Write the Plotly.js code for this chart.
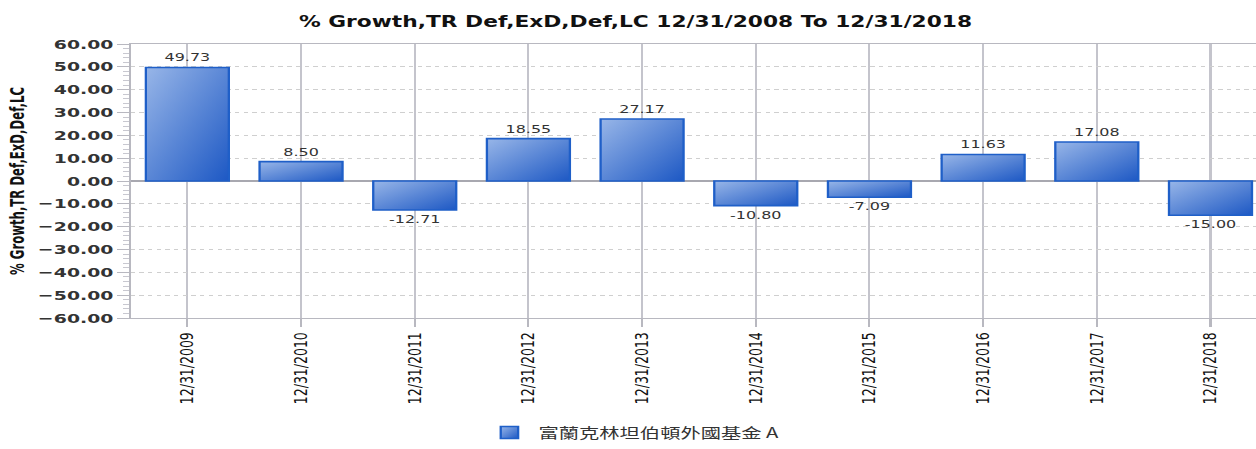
<!DOCTYPE html>
<html>
<head>
<meta charset="utf-8">
<script src="https://cdn.plot.ly/plotly-3.0.1.min.js"></script>
<style>
html,body{margin:0;padding:0;background:#fff;overflow:hidden;}
#wrap{width:1256px;height:449px;overflow:hidden;}
#chart{width:866px;height:449px;transform:scaleX(1.4503);transform-origin:0 0;}
</style>
</head>
<body>
<div id="wrap"><div id="chart"></div></div>
<script>
const categories = ["12/31/2009","12/31/2010","12/31/2011","12/31/2012","12/31/2013","12/31/2014","12/31/2015","12/31/2016","12/31/2017","12/31/2018"];
const values = [49.73, 8.50, -12.71, 18.55, 27.17, -10.80, -7.09, 11.63, 17.08, -15.00];
const seriesName = "富蘭克林坦伯頓外國基金 A";
const titleText = "% Growth,TR Def,ExD,Def,LC 12/31/2008 To 12/31/2018";
const yTitle = "% Growth,TR Def,ExD,Def,LC";

const trace = {
  type: 'bar',
  x: categories,
  y: values,
  name: seriesName,
  width: 0.73,
  marker: {color: '#4f82d6', line: {color: '#1f5fc8', width: 1.6}},
  texttemplate: '%{y:.2f}',
  textposition: 'outside',
  cliponaxis: false,
  textfont: {family: 'DejaVu Sans', size: 11, color: '#333'},
  hoverinfo: 'none'
};

const layout = {
  width: 866, height: 449,
  margin: {l: 90, r: 0, t: 44, b: 131},
  paper_bgcolor: '#fff', plot_bgcolor: '#fff',
  showlegend: true,
  title: {text: titleText, x: 0.506, xref: 'container', xanchor: 'center', y: 20, yref: 'container', yanchor: 'middle',
          font: {family: 'DejaVu Sans', size: 15, color: '#111', weight: 'bold'}},
  xaxis: {
    type: 'category', range: [-0.5, 9.4], automargin: false,
    showgrid: true, gridcolor: '#c4c4cc', gridwidth: 1.4,
    ticks: 'outside', ticklen: 8, tickcolor: '#b8b8c0', tickwidth: 1.4,
    tickangle: -90,
    tickfont: {family: 'DejaVu Sans', size: 12.5, color: '#111'},
    showline: true, linecolor: '#b8b8c0', linewidth: 1.2, mirror: true,
    zeroline: false, fixedrange: true
  },
  yaxis: {
    range: [-60, 60], dtick: 10, tickformat: '.2f', automargin: false,
    showgrid: true, gridcolor: '#cfcfcf', griddash: 'dot', gridwidth: 1,
    ticks: 'outside', ticklen: 8, tickcolor: '#b8b8c0',
    minor: {dtick: 2, ticks: 'outside', ticklen: 4, tickcolor: '#c8c8d0', showgrid: false},
    tickfont: {family: 'DejaVu Sans', size: 13, color: '#333', weight: 'bold'},
    showline: true, linecolor: '#b8b8c0', linewidth: 1.2, mirror: true,
    zeroline: true, zerolinecolor: '#a8a8b0', zerolinewidth: 1.5,
    title: {text: yTitle, standoff: 6, font: {family: 'DejaVu Sans Condensed, DejaVu Sans', size: 13, color: '#111', weight: 'bold'}},
    fixedrange: true
  },
  legend: {orientation: 'h', x: 0.4475, xanchor: 'center', y: -0.478, yanchor: 'bottom', itemwidth: 30,
           font: {family: 'Noto Sans CJK TC', size: 14, color: '#333'}}
};

Plotly.newPlot('chart', [trace], layout, {displayModeBar: false, staticPlot: true}).then(function(gd){
  const svg = gd.querySelector('svg.main-svg');
  const ns = 'http://www.w3.org/2000/svg';
  let defs = svg.querySelector('defs');
  if (!defs) { defs = document.createElementNS(ns, 'defs'); svg.insertBefore(defs, svg.firstChild); }
  const g = document.createElementNS(ns, 'linearGradient');
  g.setAttribute('id', 'barGrad');
  g.setAttribute('x1', '0'); g.setAttribute('y1', '0'); g.setAttribute('x2', '1'); g.setAttribute('y2', '1');
  [['0', '#98b6e8'], ['1', '#1d58c4']].forEach(function(s){
    const st = document.createElementNS(ns, 'stop');
    st.setAttribute('offset', s[0]); st.setAttribute('stop-color', s[1]);
    g.appendChild(st);
  });
  defs.appendChild(g);
  gd.querySelectorAll('.bars .point path, .legendpoints path').forEach(function(p){
    p.style.fill = 'url(#barGrad)';
  });
});
</script>
</body>
</html>
